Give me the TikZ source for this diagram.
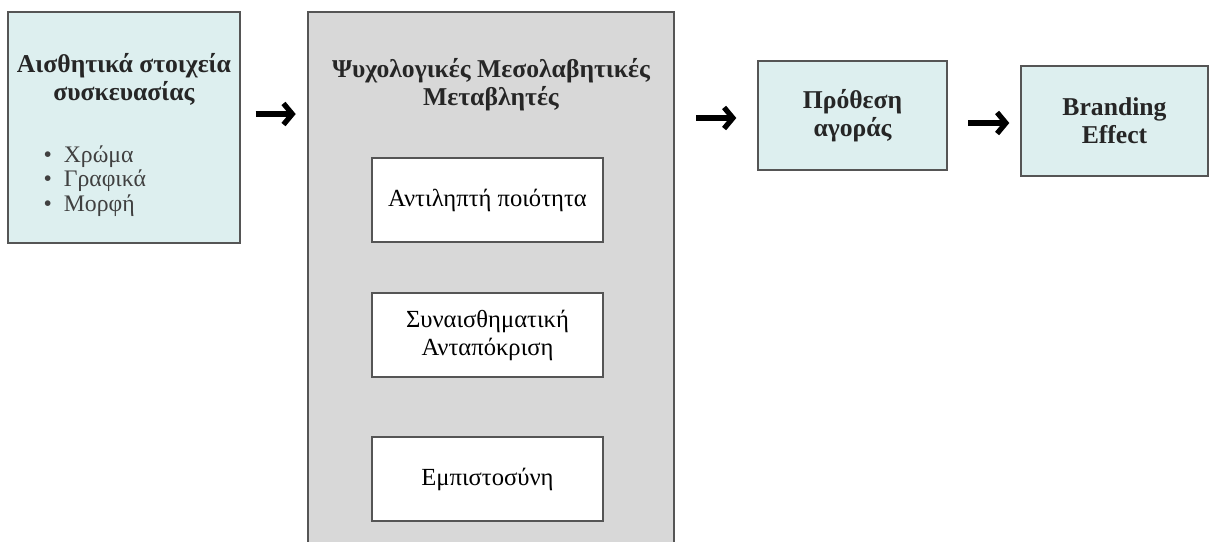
\documentclass[tikz,border=0pt]{standalone}
\usepackage{fontspec}
\setmainfont{Liberation Serif}
\usetikzlibrary{positioning,calc}
\usetikzlibrary{arrows.meta}
\definecolor{PackCyan}{RGB}{221,239,239}
\definecolor{MedGray}{RGB}{216,216,216}
\definecolor{EdgeGray}{RGB}{85,85,85}
\tikzset{
  cbox/.style={draw=EdgeGray,fill=PackCyan,line width=0.8pt,align=center,inner sep=0pt},
  wbox/.style={draw=EdgeGray,fill=white,line width=0.8pt,align=center,inner sep=0pt,
    minimum width=4.62cm,minimum height=1.68cm,font=\fontsize{14}{16}\selectfont},
  ttl/.style={font=\bfseries\fontsize{14.6}{16}\selectfont,align=center,text=black!85},
  flow/.style={draw=black,line width=3pt,-{Straight Barb[length=5pt,width=12pt]}},
}

\begin{document}
\begin{tikzpicture}
\useasboundingbox (0,0) rectangle (24.2,-10.82);
\clip (0,0) rectangle (24.2,-10.82);
\coordinate (caes) at (2.480,-2.550);
\coordinate (cpsy) at (9.820,-5.720);
\coordinate (cprob) at (17.050,-2.310);
\coordinate (cbrand) at (22.290,-2.420);
% left box
\node[cbox,minimum width=4.64cm,minimum height=4.62cm] (aes) at (caes) {};
\node[ttl,below=0.72cm of aes.north] (aesttl) {Αισθητικά στοιχεία\\συσκευασίας};
\node[anchor=north west,align=left,font=\fontsize{13.5}{14}\selectfont,text=black!75,inner sep=0pt]
  (aeslist) at ([xshift=0.72cm,yshift=-2.68cm]aes.north west)
  {\textbullet\hspace{0.5em}Χρώμα\\ \textbullet\hspace{0.5em}Γραφικά\\ \textbullet\hspace{0.5em}Μορφή};
% mediators
\node[draw=EdgeGray,fill=MedGray,line width=0.8pt,minimum width=7.32cm,minimum height=10.96cm] (psy) at (cpsy) {};
\node[ttl,below=0.82cm of psy.north] (psyttl) {Ψυχολογικές Μεσολαβητικές\\Μεταβλητές};
\node[wbox] (qual) at (9.750,-4.000) {Αντιληπτή ποιότητα};
\node[wbox] (emo) at (9.750,-6.700) {Συναισθηματική\\Ανταπόκριση};
\node[wbox] (trust) at (9.750,-9.580) {Εμπιστοσύνη};
% outcomes
\node[cbox,ttl,minimum width=3.78cm,minimum height=2.18cm] (prob) at (cprob) {Πρόθεση\\αγοράς};
\node[cbox,ttl,minimum width=3.74cm,minimum height=2.20cm] (brand) at (cbrand) {Branding\\Effect};
% arrows
\draw[flow] ([xshift=0.30cm,yshift=0.27cm]aes.east) -- ([xshift=1.10cm,yshift=0.27cm]aes.east);
\draw[flow] ([xshift=-1.22cm,yshift=-0.05cm]prob.west) -- ([xshift=-0.42cm,yshift=-0.05cm]prob.west);
\draw[flow] ([xshift=-1.04cm,yshift=-0.04cm]brand.west) -- ([xshift=-0.22cm,yshift=-0.04cm]brand.west);
\end{tikzpicture}
\end{document}
